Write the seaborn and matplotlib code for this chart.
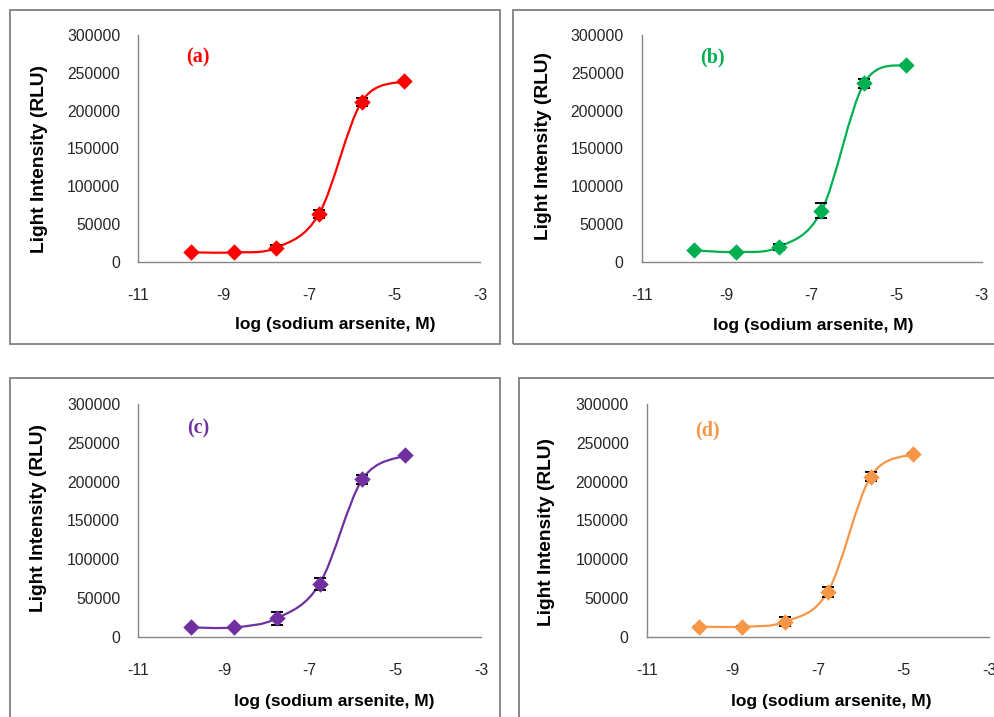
import matplotlib
matplotlib.use("Agg")
import matplotlib.pyplot as plt
from matplotlib.path import Path
from matplotlib.patches import PathPatch, Rectangle
import numpy as np
import pandas as pd
import seaborn as sns

# log concentration of sodium arsenite (M)
log_conc = [-9.77, -8.77, -7.77, -6.77, -5.77, -4.77]

# mean light intensity (RLU) and error for each panel
rlu_a = [12400, 12300, 18500, 63100, 211700, 239100]
err_a = [1000, 1000, 3000, 5000, 5000, 1000]
rlu_b = [15400, 13200, 19900, 67500, 236000, 260800]
err_b = [1000, 1000, 4000, 10000, 5500, 1000]
rlu_c = [12000, 12000, 23600, 67900, 202900, 233800]
err_c = [1000, 1000, 8600, 8000, 5500, 1000]
rlu_d = [12900, 12900, 19300, 58000, 206300, 235500]
err_d = [1000, 1000, 5500, 6500, 5500, 1000]

panel_labels = ["(a)", "(b)", "(c)", "(d)"]
colors = ["#FF0000", "#00B050", "#7030A0", "#F79646"]

sns.set_theme(style="white")
plt.rcParams["font.family"] = ["Liberation Sans", "DejaVu Sans"]

fig = plt.figure(figsize=(9.95, 7.17), dpi=100)
W, H = 995, 717


def px_rect(x0, y0, x1, y1):
    # pixel box (top-left origin) -> figure fraction [l, b, w, h]
    return [x0 / W, (H - y1) / H, (x1 - x0) / W, (y1 - y0) / H]


# panel frames
for (x0, y0, x1, y1) in [(9.5, 10, 500.5, 343.7), (513.5, 10, 1010, 343.7),
                         (9.5, 377.5, 500.5, 730), (518.5, 377.5, 1010, 730)]:
    l, b, w, h = px_rect(x0, y0, x1, y1)
    fig.patches.append(Rectangle((l, b), w, h, transform=fig.transFigure,
                                 fill=False, edgecolor="#808080", linewidth=1.3))

axes_px = [(138.3, 35, 480, 261.7), (641.7, 35, 981.7, 262),
           (138.3, 404, 481, 636.7), (646.7, 404, 989.3, 636.7)]
letter_pos = [(-9.6, 270000), (-9.33, 270000), (-9.6, 269000), (-9.58, 266000)]
ylab_pos = [(-0.29, 0.453), (-0.29, 0.51), (-0.29, 0.51), (-0.292, 0.45)]
xlab_pos = [(0.576, -0.279), (0.504, -0.28), (0.573, -0.279), (0.54, -0.279)]

series = [(rlu_a, err_a), (rlu_b, err_b), (rlu_c, err_c), (rlu_d, err_d)]


def smooth_path(xs, ys, t=1 / 6):
    # Excel-style smoothed line: cubic Bezier through every data point
    pts = np.column_stack([xs, ys])
    n = len(pts)
    verts = [pts[0]]
    codes = [Path.MOVETO]
    for i in range(n - 1):
        p_prev = pts[i - 1] if i > 0 else pts[i]
        p_next2 = pts[i + 2] if i + 2 < n else pts[i + 1]
        c1 = pts[i] + (pts[i + 1] - p_prev) * t
        c2 = pts[i + 1] - (p_next2 - pts[i]) * t
        verts += [c1, c2, pts[i + 1]]
        codes += [Path.CURVE4] * 3
    return Path(verts, codes)


for k, ((rlu, err), color) in enumerate(zip(series, colors)):
    ax = fig.add_axes(px_rect(*axes_px[k]))
    df = pd.DataFrame({"log_conc": log_conc, "rlu": rlu, "err": err})

    ax.add_patch(PathPatch(smooth_path(df["log_conc"], df["rlu"]), fill=False,
                           edgecolor=color, linewidth=1.6, zorder=2))
    ax.errorbar(df["log_conc"], df["rlu"], yerr=df["err"], fmt="none",
                ecolor="black", elinewidth=1.3, capsize=4, capthick=1.4, zorder=2.5)
    sns.scatterplot(data=df, x="log_conc", y="rlu", marker="D", s=70,
                    color=color, edgecolor=color, linewidth=0, ax=ax, zorder=3)

    ax.set_xlim(-11, -3)
    ax.set_ylim(0, 300000)
    ax.set_xticks([-11, -9, -7, -5, -3])
    ax.set_yticks(np.arange(0, 300001, 50000))
    ax.set_xticklabels(["-11", "-9", "-7", "-5", "-3"])
    ax.set_yticklabels([str(v) for v in range(0, 300001, 50000)])
    ax.tick_params(axis="both", direction="out", length=5, width=1,
                   color="#868686", labelsize=11.3, labelcolor="#262626")
    ax.tick_params(axis="x", pad=14)
    ax.tick_params(axis="y", pad=8)
    for side in ["top", "right"]:
        ax.spines[side].set_visible(False)
    for side in ["left", "bottom"]:
        ax.spines[side].set_color("#868686")
        ax.spines[side].set_linewidth(1)
    ax.set_facecolor("none")

    ax.set_xlabel("log (sodium arsenite, M)", fontsize=12.5, fontweight="bold", color="black")
    ax.set_ylabel("Light Intensity (RLU)", fontsize=13.8, fontweight="bold", color="black")
    ax.xaxis.set_label_coords(*xlab_pos[k])
    ax.yaxis.set_label_coords(*ylab_pos[k])
    ax.xaxis.label.set_va("center")
    ax.yaxis.label.set_va("center")

    ax.text(letter_pos[k][0], letter_pos[k][1], panel_labels[k], color=color,
            fontsize=14.5, fontweight="bold", family="Liberation Serif",
            ha="center", va="center")

fig.savefig("out.png", dpi=100)
